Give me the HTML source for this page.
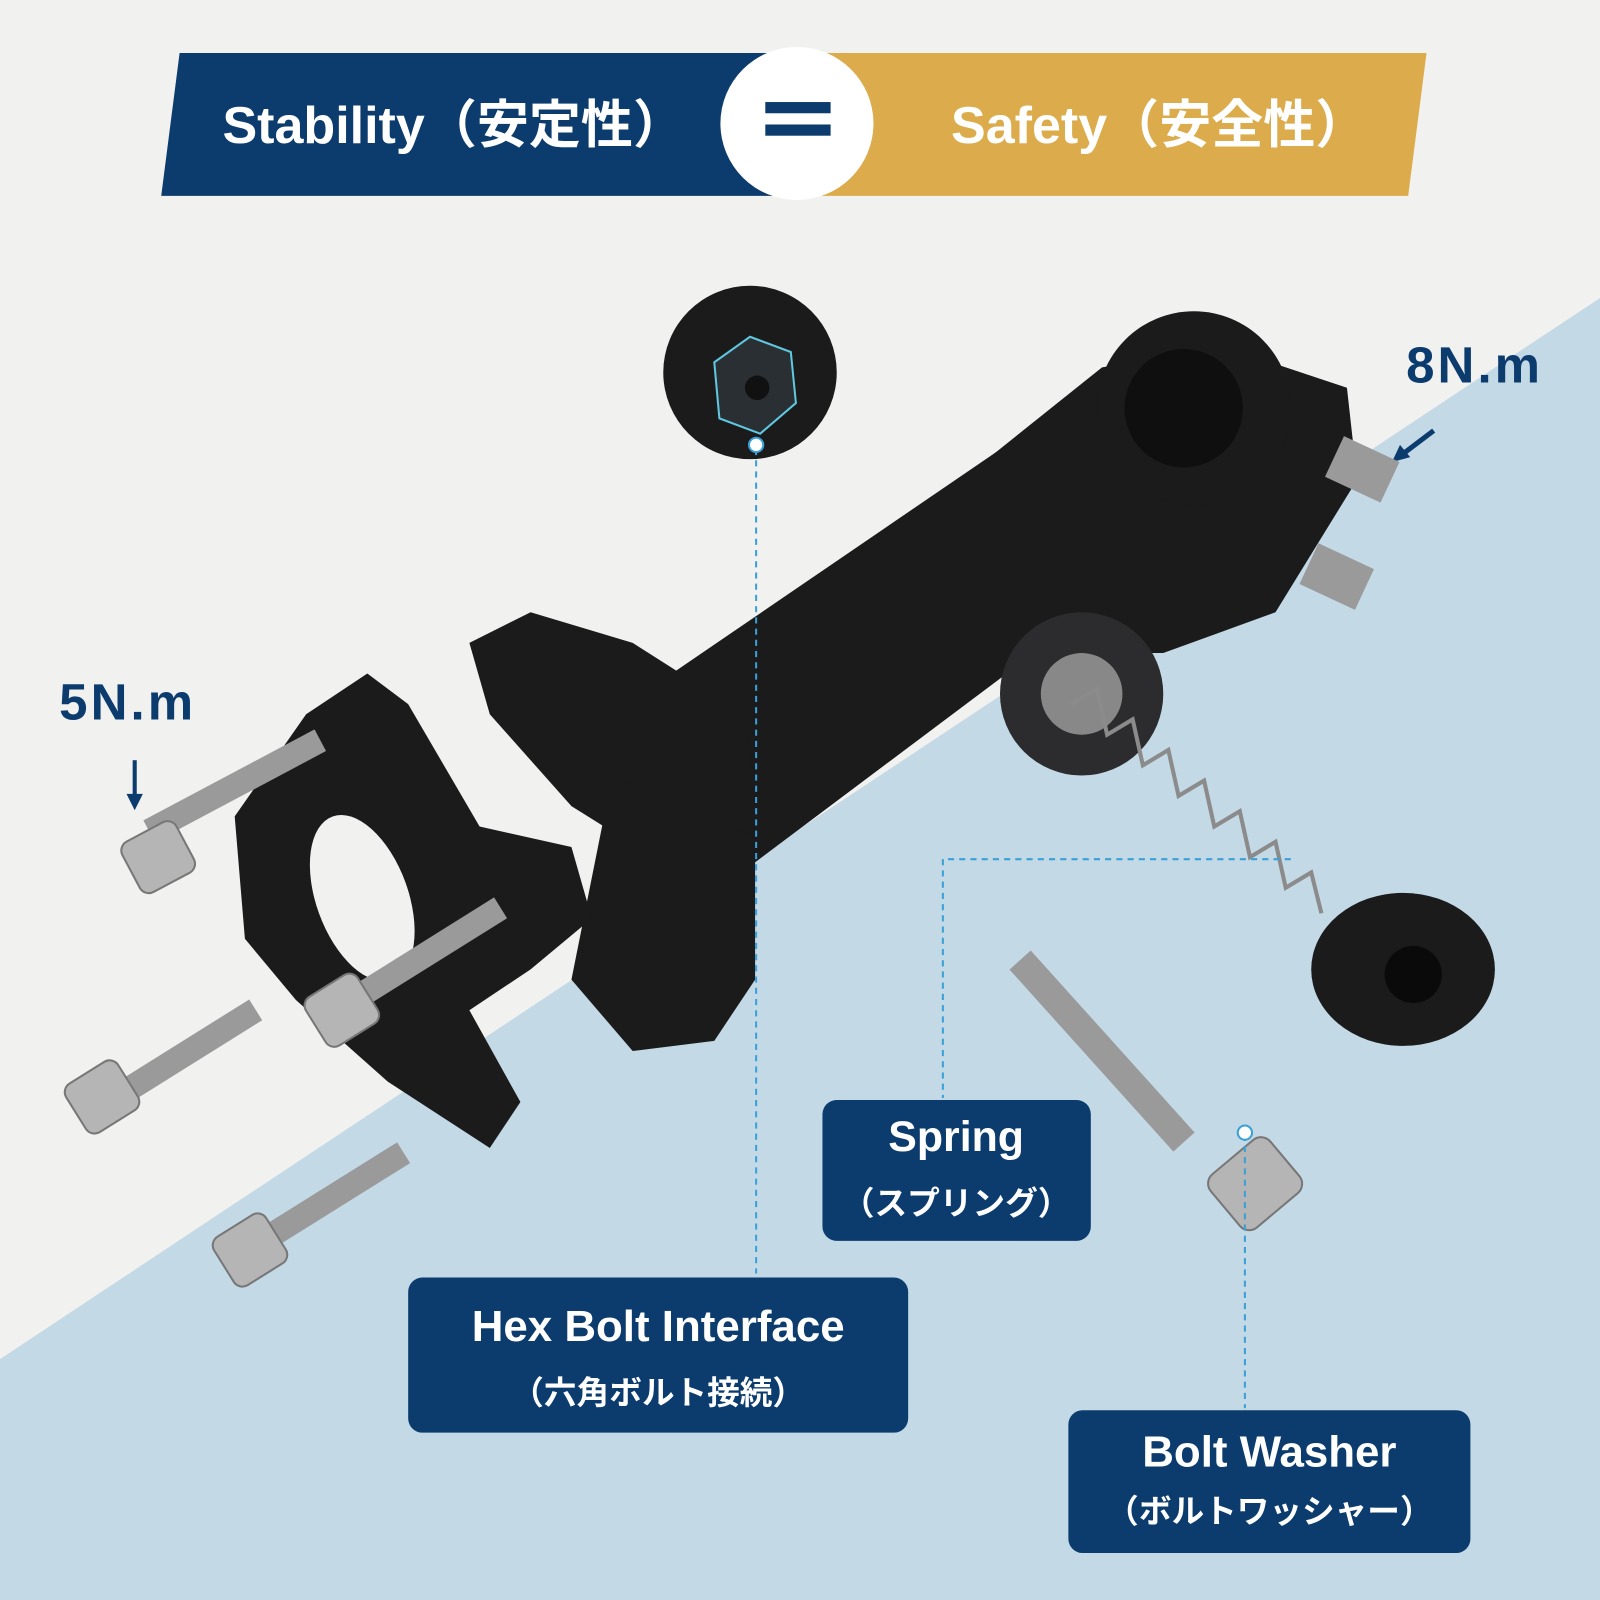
<!DOCTYPE html>
<html><head><meta charset="utf-8"><style>
html,body{margin:0;padding:0;background:#f1f1f0}
svg{display:block}
text{font-family:"Liberation Sans","Noto Sans CJK JP",sans-serif;font-weight:bold}
</style></head><body>
<svg width="1600" height="1600" viewBox="0 0 1568 1568" xmlns="http://www.w3.org/2000/svg">
<rect width="1568" height="1568" fill="#f1f1ef"/>
<polygon points="0,1332 1568,292 1568,1568 0,1568" fill="#c3d9e6"/>
<!-- banner -->
<polygon points="176,52 780,52 780,192 158,192" fill="#0c3c6e"/>
<polygon points="780,52 1398,52 1380,192 780,192" fill="#dcab4c"/>
<circle cx="781" cy="121" r="75" fill="#fff"/>
<rect x="750" y="100" width="64" height="11" fill="#0c3c6e"/>
<rect x="750" y="122" width="64" height="11" fill="#0c3c6e"/>
<text x="218" y="140" font-size="51" fill="#fff">Stability（安定性）</text>
<text x="932" y="140" font-size="51" fill="#fff">Safety（安全性）</text>
<!-- torque labels -->
<text x="1378" y="375" font-size="50" fill="#0c3c6e" letter-spacing="3">8N.m</text>
<line x1="1405" y1="422" x2="1372" y2="447" stroke="#0c3c6e" stroke-width="5"/>
<polygon points="1364,453 1372,436 1382,448" fill="#0c3c6e"/>
<text x="58" y="705" font-size="50" fill="#0c3c6e" letter-spacing="3">5N.m</text>
<line x1="132" y1="745" x2="132" y2="782" stroke="#0c3c6e" stroke-width="4"/>
<polygon points="124,778 140,778 132,794" fill="#0c3c6e"/>
<!-- stem body -->
<g fill="#1b1b1c">
<polygon points="600,700 1010,420 1120,560 720,860"/>
<polygon points="880,520 1080,360 1200,340 1320,380 1330,470 1250,600 1140,640 1010,640 920,600"/>
<circle cx="1170" cy="400" r="95"/>
<polygon points="460,630 520,600 620,630 730,700 740,780 700,830 640,840 560,790 480,700"/>
<polygon points="600,760 740,820 740,960 700,1020 620,1030 560,960"/>
<polygon points="230,800 300,700 360,660 400,690 470,810 560,830 580,900 520,950 460,990 510,1080 480,1125 380,1060 290,980 240,920"/>
<circle cx="735" cy="365" r="85"/>
<ellipse cx="1375" cy="950" rx="90" ry="75"/>
</g>
<circle cx="1160" cy="400" r="58" fill="#0f0f10"/>
<ellipse cx="355" cy="880" rx="45" ry="85" fill="#f1f1ef" transform="rotate(-20 355 880)"/>
<circle cx="1060" cy="680" r="80" fill="#2c2c2e"/>
<circle cx="1060" cy="680" r="40" fill="#888"/>
<polygon points="735,330 775,345 780,395 745,425 705,410 700,355" fill="#2a2f33" stroke="#5fc8e0" stroke-width="2"/>
<circle cx="742" cy="380" r="12" fill="#111"/>
<circle cx="1385" cy="955" r="28" fill="#0a0a0a"/>
<!-- spring -->
<path d="M1050,690 l25,-15 l10,45 l25,-15 l10,45 l25,-15 l10,45 l25,-15 l10,45 l25,-15 l10,45 l25,-15 l10,45 l25,-15 l10,40" fill="none" stroke="#8b8b8b" stroke-width="4"/>
<!-- bolts -->
<g fill="#9a9a9a">
<rect x="-95" y="-12" width="190" height="24" transform="translate(230,770) rotate(-28)"/>
<rect x="-95" y="-12" width="190" height="24" transform="translate(410,940) rotate(-32)"/>
<rect x="-95" y="-12" width="190" height="24" transform="translate(170,1040) rotate(-32)"/>
<rect x="-95" y="-12" width="190" height="24" transform="translate(315,1180) rotate(-32)"/>
<rect x="-120" y="-14" width="240" height="28" transform="translate(1080,1030) rotate(48)"/>
<rect x="-30" y="-22" width="60" height="44" transform="translate(1335,460) rotate(25)"/>
<rect x="-30" y="-22" width="60" height="44" transform="translate(1310,565) rotate(25)"/>
</g>
<g fill="#b5b5b5" stroke="#777" stroke-width="2">
<rect x="-30" y="-28" width="60" height="56" rx="10" transform="translate(155,840) rotate(-28)"/>
<rect x="-30" y="-28" width="60" height="56" rx="10" transform="translate(335,990) rotate(-32)"/>
<rect x="-30" y="-28" width="60" height="56" rx="10" transform="translate(100,1075) rotate(-32)"/>
<rect x="-30" y="-28" width="60" height="56" rx="10" transform="translate(245,1225) rotate(-32)"/>
<rect x="-38" y="-34" width="76" height="68" rx="12" transform="translate(1230,1160) rotate(-40)"/>
</g>
<!-- dashed leaders -->
<g stroke="#3aa0d8" stroke-width="2" stroke-dasharray="6,5" fill="none">
<line x1="741" y1="440" x2="741" y2="1248"/>
<polyline points="1265,842 924,842 924,1076"/>
<line x1="1220" y1="1112" x2="1220" y2="1380"/>
</g>
<circle cx="741" cy="436" r="7" fill="#fff" stroke="#3aa0d8" stroke-width="2"/>
<circle cx="1220" cy="1110" r="7" fill="#fff" stroke="#3aa0d8" stroke-width="2"/>
<!-- boxes -->
<rect x="806" y="1078" width="263" height="138" rx="14" fill="#0c3c6e"/>
<text x="937" y="1128" font-size="42" fill="#fff" text-anchor="middle">Spring</text>
<text x="937" y="1190" font-size="32" fill="#fff" text-anchor="middle" font-weight="normal">（スプリング）</text>
<rect x="400" y="1252" width="490" height="152" rx="14" fill="#0c3c6e"/>
<text x="645" y="1314" font-size="43" fill="#fff" text-anchor="middle">Hex Bolt Interface</text>
<text x="645" y="1376" font-size="32" fill="#fff" text-anchor="middle" font-weight="normal">（六角ボルト接続）</text>
<rect x="1047" y="1382" width="394" height="140" rx="14" fill="#0c3c6e"/>
<text x="1244" y="1437" font-size="43" fill="#fff" text-anchor="middle">Bolt Washer</text>
<text x="1244" y="1492" font-size="32" fill="#fff" text-anchor="middle" font-weight="normal">（ボルトワッシャー）</text>
</svg>
</body></html>
